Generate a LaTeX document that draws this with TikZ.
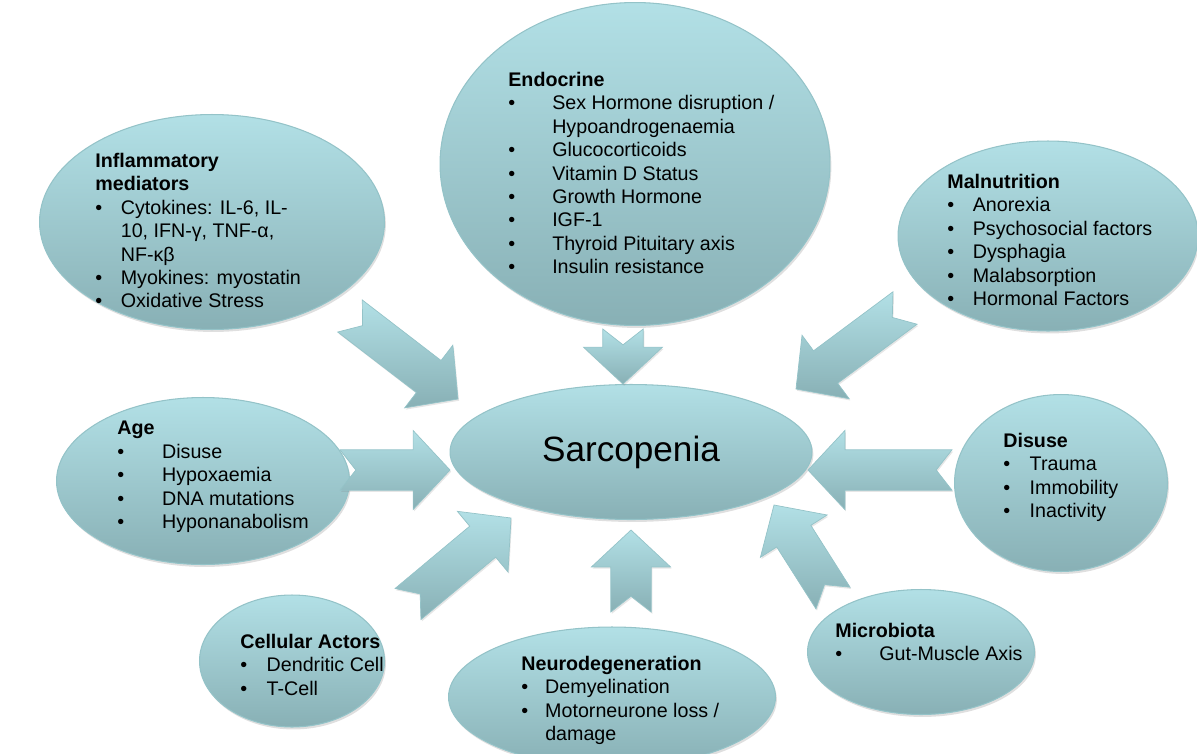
\documentclass[tikz,border=0pt]{standalone}
\usepackage{fontspec}
\setmainfont{Liberation Sans}
\usetikzlibrary{shapes.geometric,calc,shadows}

\definecolor{blobtop}{RGB}{178,224,230}
\definecolor{blobbot}{RGB}{136,176,181}
\definecolor{blobline}{RGB}{148,195,200}

\newcommand{\itm}[1][14.5pt]{\makebox[#1][l]{\textbullet}}
\newcommand{\shaftw}{11.5pt}
\newcommand{\headw}{22.5pt}
\newcommand{\headl}{21pt}
\newcommand{\notchd}{9pt}

% block arrow from tail #1 to tip #2
\newcommand{\blockarrow}[2]{%
	\path[arrowfill] let \p1=(#1), \p2=(#2), \n1={atan2(\y2-\y1,\x2-\x1)} in
		($(#1)+({\n1+90}:\shaftw)$) --
		($(#2)+({\n1+180}:\headl)+({\n1+90}:\shaftw)$) --
		($(#2)+({\n1+180}:\headl)+({\n1+90}:\headw)$) --
		(#2) --
		($(#2)+({\n1+180}:\headl)+({\n1-90}:\headw)$) --
		($(#2)+({\n1+180}:\headl)+({\n1-90}:\shaftw)$) --
		($(#1)+({\n1-90}:\shaftw)$) --
		($(#1)+(\n1:\notchd)$) -- cycle;}

\tikzset{
	blob/.style={ellipse, draw=blobline, line width=0.6pt,
		top color=blobtop, bottom color=blobbot,
		drop shadow={shadow xshift=0.8pt, shadow yshift=-1.4pt, opacity=0.25}},
	txt/.style={align=left, anchor=north west, inner sep=0pt,
		font=\fontsize{11.2}{13.3}\selectfont},
	arrowfill/.style={draw=blobline, line width=0.4pt,
		top color=blobtop, bottom color=blobbot,
		drop shadow={shadow xshift=0.6pt, shadow yshift=-1pt, opacity=0.2}}
}

\begin{document}
\begin{tikzpicture}[x=0.02cm, y=-0.02cm]
		\useasboundingbox (0,0) rectangle (1197,754);

		% the ovals
		\node[blob, minimum width=6.9cm,  minimum height=4.3cm]  (infl)   at ( 212,222) {};
		\node[blob, minimum width=7.8cm,  minimum height=6.46cm] (endo)   at ( 635,164) {};
		\node[blob, minimum width=6.0cm,  minimum height=3.8cm]  (maln)   at (1048,236) {};
		\node[blob, minimum width=5.86cm, minimum height=3.34cm] (age)    at ( 203,481) {};
		\node[blob, minimum width=4.26cm, minimum height=3.54cm] (disuse) at (1061,483) {};
		\node[blob, minimum width=3.7cm,  minimum height=2.64cm] (cell)   at ( 292,661) {};
		\node[blob, minimum width=6.54cm, minimum height=2.8cm]  (neuro)  at ( 612,697) {};
		\node[blob, minimum width=4.54cm, minimum height=2.5cm]  (micro)  at ( 921,652) {};
		\node[blob, minimum width=7.24cm, minimum height=2.7cm,
			font=\fontsize{20}{24}\selectfont] (sarc) at (631,452) {Sarcopenia};

		% arrow ends
		\coordinate (T1) at ( 350,316); \coordinate (H1) at (458,399);
		\coordinate (T2) at ( 623,329); \coordinate (H2) at (623,384);
		\coordinate (T3) at ( 905,308); \coordinate (H3) at (796,389);
		\coordinate (T4) at ( 340,470); \coordinate (H4) at (450,470);
		\coordinate (T5) at ( 952,470); \coordinate (H5) at (808,470);
		\coordinate (T6) at ( 408,604); \coordinate (H6) at (511,518);
		\coordinate (T7) at ( 631,612); \coordinate (H7) at (631,530);
		\coordinate (T8) at ( 833,598); \coordinate (H8) at (774,505);

		\foreach \i in {1,...,8} {\blockarrow{T\i}{H\i}}

		% the texts
		\node[txt] (infl-txt) at (95,153) {\textbf{Inflammatory}\\\textbf{mediators}\\
			\itm Cytokines: IL-6, IL-\\\hspace*{14.5pt}10, IFN-γ, TNF-α,\\\hspace*{14.5pt}NF-κβ\\
			\itm Myokines: myostatin\\\itm Oxidative Stress};
		\node[txt] (endo-txt) at (508,72) {\textbf{Endocrine}\\
			\itm[25pt]Sex Hormone disruption /\\\hspace*{25pt}Hypoandrogenaemia\\
			\itm[25pt]Glucocorticoids\\\itm[25pt]Vitamin D Status\\
			\itm[25pt]Growth Hormone\\\itm[25pt]IGF-1\\
			\itm[25pt]Thyroid Pituitary axis\\\itm[25pt]Insulin resistance};
		\node[txt] (maln-txt) at (947,174) {\textbf{Malnutrition}\\
			\itm Anorexia\\\itm Psychosocial factors\\\itm Dysphagia\\
			\itm Malabsorption\\\itm Hormonal Factors};
		\node[txt] (age-txt) at (117,421) {\textbf{Age}\\
			\itm[25.5pt]Disuse\\\itm[25.5pt]Hypoxaemia\\
			\itm[25.5pt]DNA mutations\\\itm[25.5pt]Hyponanabolism};
		\node[txt] (disuse-txt) at (1003,433) {\textbf{Disuse}\\
			\itm[15pt]Trauma\\\itm[15pt]Immobility\\\itm[15pt]Inactivity};
		\node[txt] (cell-txt) at (240,634) {\textbf{Cellular Actors}\\
			\itm[15pt]Dendritic Cell\\\itm[15pt]T-Cell};
		\node[txt] (neuro-txt) at (521,656) {\textbf{Neurodegeneration}\\
			\itm[13.6pt]Demyelination\\\itm[13.6pt]Motorneurone loss /\\\hspace*{13.6pt}damage};
		\node[txt] (micro-txt) at (835,623) {\textbf{Microbiota}\\
			\itm[25pt]Gut-Muscle Axis};

	\end{tikzpicture}
\end{document}
